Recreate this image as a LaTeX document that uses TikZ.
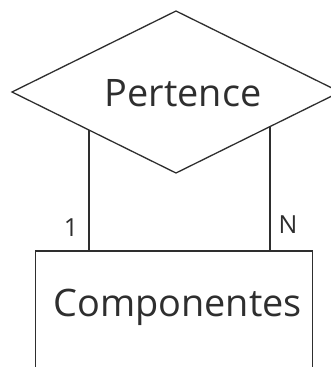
\documentclass[tikz,border=0pt]{standalone}
\usepackage{fontspec}
\setmainfont{Open Sans}
\usetikzlibrary{shapes.geometric,calc}
\definecolor{ink}{HTML}{2E2E2E}
\tikzset{
  relation/.style={draw=ink, line width=1.3bp, diamond, aspect=2.02,
    minimum width=328bp, minimum height=162bp, inner sep=0pt, outer sep=0pt},
  entity/.style={draw=ink, line width=1.3bp, rectangle,
    minimum width=277bp, minimum height=160bp, inner sep=0pt, outer sep=0pt},
  bigtext/.style={text=ink, inner sep=0pt, font=\fontsize{38}{42}\selectfont},
  cardtext/.style={text=ink, inner sep=0pt, font=\fontsize{25}{28}\selectfont},
  link/.style={draw=ink, line width=1.3bp}
}
\begin{document}
\begin{tikzpicture}[x=1bp,y=-1bp]
  \clip (0,0) rectangle (331,367);
  \fill[white] (0,0) rectangle (331,367);

  % relationship diamond
  \node[relation] (dia) at (176,92) {};
  \node[bigtext] (dialabel) at (183,93) {Pertence};

  % entity box (its lower edge runs past the bottom border)
  \node[entity, anchor=north] (comp) at (174,251) {};
  \node[bigtext] (complabel) at (177.5,307) {Componentes};

  % connectors from the lower diamond edges down to the box
  \coordinate (pl) at ($(dia.west)!0.4695!(dia.south)$);
  \coordinate (pr) at ($(dia.east)!0.4268!(dia.south)$);
  \draw[link] (pl) -- (pl |- comp.north);
  \draw[link] (pr) -- (pr |- comp.north);

  % cardinalities
  \node[cardtext] (c1) at (71,228) {1};
  \node[cardtext] (cn) at (288,225) {N};
\end{tikzpicture}
\end{document}
